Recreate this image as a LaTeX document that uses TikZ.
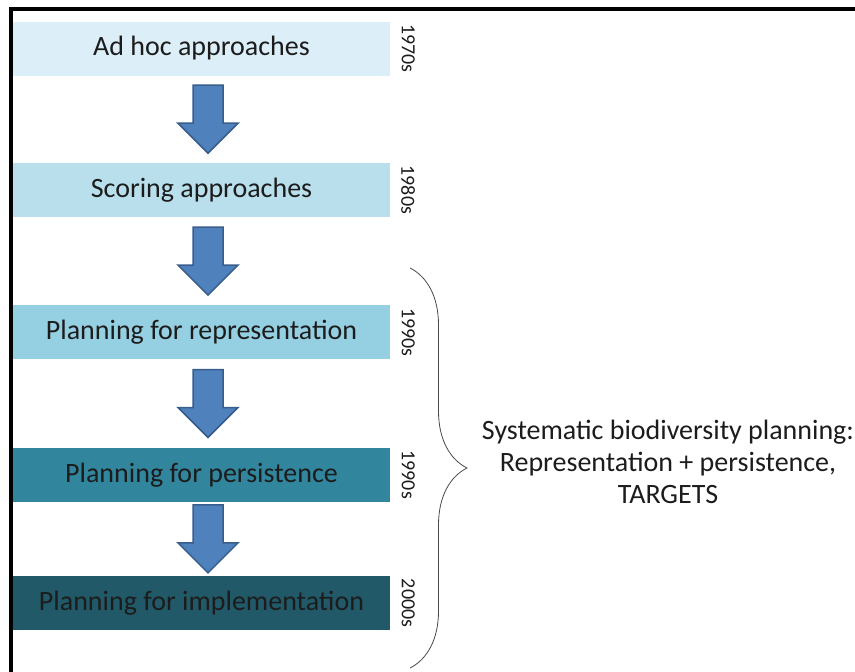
\documentclass[tikz,border=0pt]{standalone}
\usepackage{fontspec}
\setmainfont{Carlito}
\usepackage{tikz}
\usetikzlibrary{positioning, calc, decorations.pathreplacing}
\definecolor{aquaone}{HTML}{DCEEF8}
\definecolor{aquatwo}{HTML}{B9DFEC}
\definecolor{aquathree}{HTML}{95CFE2}
\definecolor{aquafour}{HTML}{31859C}
\definecolor{aquafive}{HTML}{215968}
\definecolor{arrowblue}{HTML}{4F81BD}
\definecolor{arrowedge}{HTML}{385D8A}
\definecolor{inkdark}{HTML}{1C1C1C}

\begin{document}
\begin{tikzpicture}[x=1pt, y=-1pt,
    stage/.style={minimum width=377pt, minimum height=54pt, inner sep=0pt,
                  text=inkdark, font=\fontsize{28}{32}\selectfont},
    decade/.style={rotate=-90, inner sep=0pt, text=inkdark, font=\fontsize{20}{22}\selectfont},
    blockarrow/.style={fill=arrowblue, draw=arrowedge, line width=1.5pt, line join=miter},
    downarrow/.pic={\draw[blockarrow] (-15,-34) -- (15,-34) -- (15,4) -- (30,4)
                     -- (0,34) -- (-30,4) -- (-15,4) -- cycle;}]
  \useasboundingbox (0,0) rectangle (855,672);
  \draw[line width=4pt] (11,672) -- (11,8.5) -- (855,8.5);

  % stages
  \node[stage, fill=aquaone] (adhoc) at (201.5,48.5) {Ad hoc approaches};
  \node[stage, fill=aquatwo, below=87pt of adhoc] (scoring) {Scoring approaches};
  \node[stage, fill=aquathree, below=88pt of scoring] (repr) {Planning for representation};
  \node[stage, fill=aquafour, below=88pt of repr] (persist) {Planning for persistence};
  \node[stage, fill=aquafive, below=74pt of persist] (impl) {Planning for implementation};

  % decades
  \node[decade] (dec70) at ($(adhoc.east)+(18,0)$) {1970s};
  \node[decade] (dec80) at ($(scoring.east)+(18,0)$) {1980s};
  \node[decade] (dec90a) at ($(repr.east)+(18,0)$) {1990s};
  \node[decade] (dec90b) at ($(persist.east)+(18,0)$) {1990s};
  \node[decade] (dec00) at ($(impl.east)+(18,0)$) {2000s};

  \foreach \a/\b in {adhoc/scoring, scoring/repr, repr/persist, persist/impl}
    \pic at ($(\a.south)!0.5!(\b.north)+(6.5,0)$) {downarrow};

  % brace
  \coordinate (brtop) at (410,268);
  \coordinate (brbot) at (410,668);
  \draw[decorate, decoration={brace, amplitude=57pt}, line width=0.8pt, inkdark!80]
    (brtop) -- (brbot);
  \node[align=center, text=inkdark, font=\fontsize{28}{32}\selectfont] (summary) at (668,462)
    {Systematic biodiversity planning:\\Representation + persistence,\\TARGETS};
\end{tikzpicture}
\end{document}
